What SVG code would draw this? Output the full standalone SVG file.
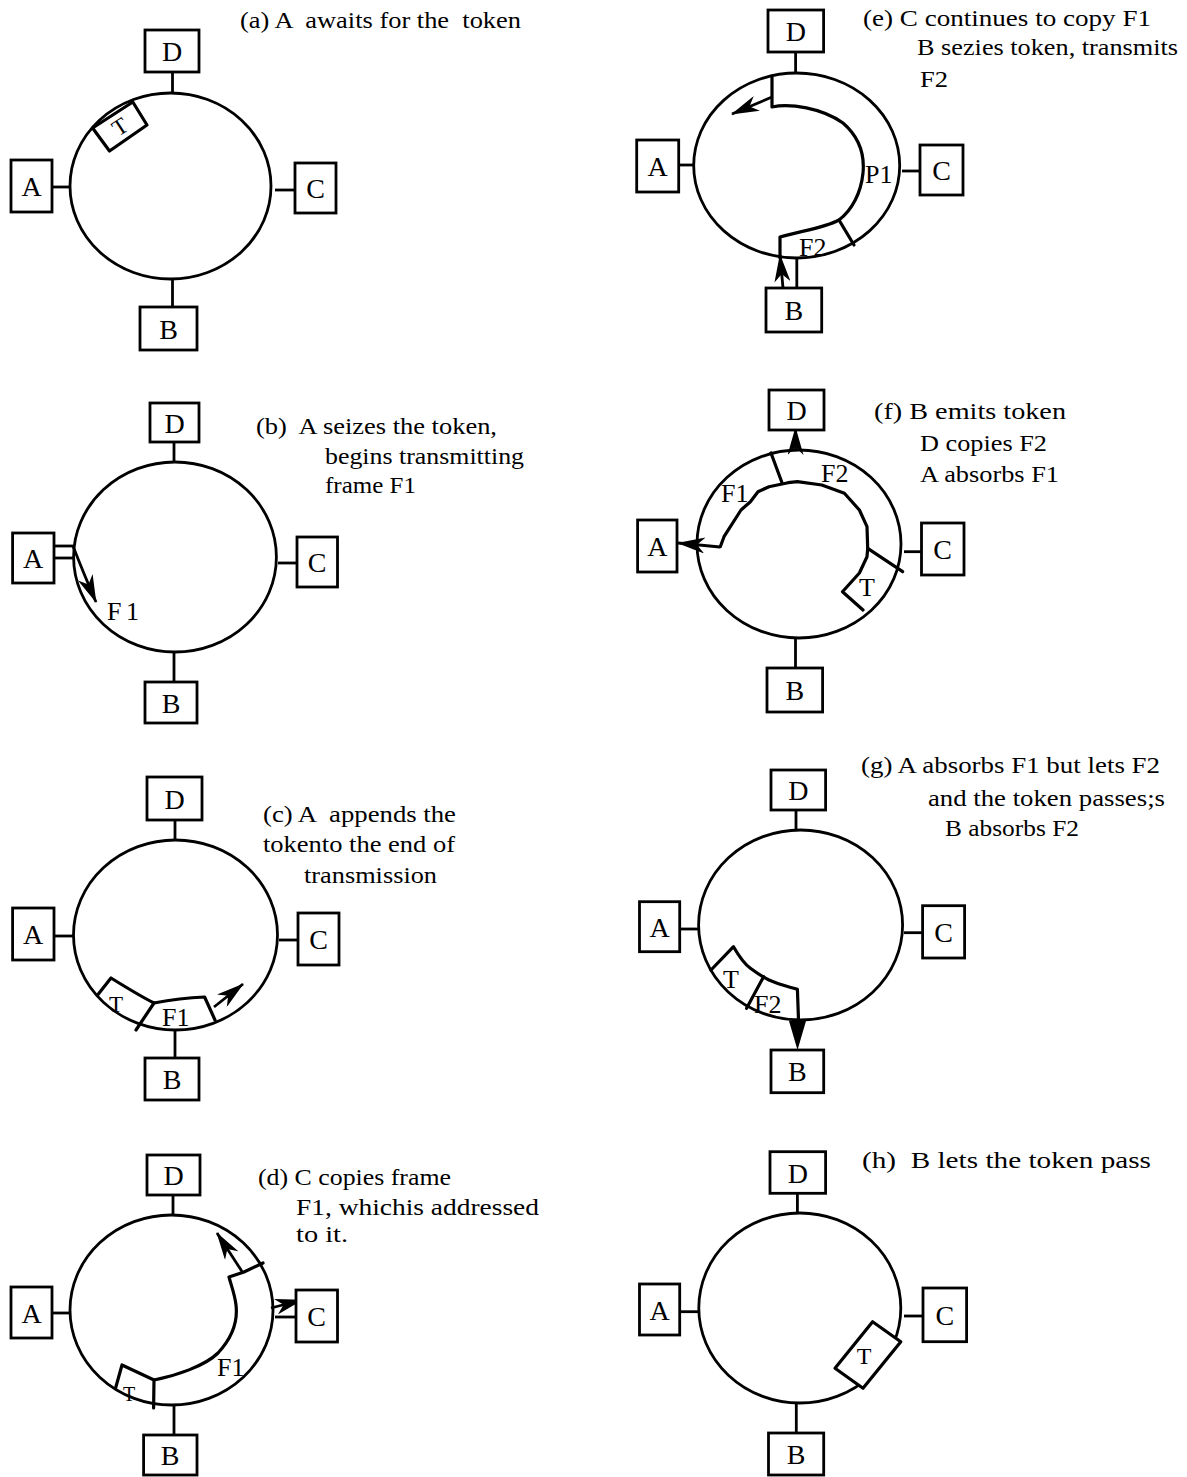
<svg xmlns="http://www.w3.org/2000/svg" width="1187" height="1477" viewBox="0 0 1187 1477">
<defs>
<style>
.ring{fill:none;stroke:#000;stroke-width:2.8}
.box{fill:#fff;stroke:#000;stroke-width:2.8}
.wire{fill:none;stroke:#000;stroke-width:2.8}
.frame{fill:none;stroke:#000;stroke-width:3.2;stroke-linejoin:round;stroke-linecap:round}
.tok{fill:#fff;stroke:#000;stroke-width:3.2;stroke-linejoin:round}
.lbl{font-family:"Liberation Serif","Times New Roman",serif;font-size:28px;text-anchor:middle;fill:#000}
.cap{font-family:"Liberation Serif","Times New Roman",serif;font-size:23px;fill:#000;white-space:pre}
.fl{font-family:"Liberation Serif","Times New Roman",serif;font-size:26px;fill:#000}
.arrow{fill:none;stroke:#000;stroke-width:2.8;marker-end:url(#ah)}
</style>
<marker id="ah" viewBox="0 0 28 16" markerWidth="28" markerHeight="16" refX="27" refY="8" orient="auto" markerUnits="userSpaceOnUse">
<path d="M0,0 L28,8 L0,16 L8,8 Z" fill="#000"/>
</marker>
</defs>
<rect width="1187" height="1477" fill="#fff"/>

<!-- Panel (a) -->
<g id="panel-a">
<text class="cap" x="240" y="28" textLength="281" lengthAdjust="spacingAndGlyphs">(a) A  awaits for the  token</text>
<g id="a-ring"><ellipse class="ring" cx="170.5" cy="186" rx="100.5" ry="93"/></g>
<g id="a-links">
<line class="wire" x1="172.5" y1="72" x2="172.5" y2="93"/>
<line class="wire" x1="52" y1="187" x2="70" y2="187"/>
<line class="wire" x1="275" y1="190" x2="295" y2="190"/>
<line class="wire" x1="172.5" y1="279" x2="172.5" y2="307"/>
</g>
<g id="a-token"><polygon class="tok" points="92.6,128 132.8,102 147,125 109.5,151"/><text class="fl" x="120" y="127" text-anchor="middle" dominant-baseline="central" transform="rotate(-33 120 127)" style="font-size:23px">T</text></g>
<g id="a-D"><rect class="box" x="145" y="30" width="54" height="42"/><text class="lbl" x="172" y="61">D</text></g>
<g id="a-A"><rect class="box" x="11" y="160" width="41" height="52"/><text class="lbl" x="31.5" y="196">A</text></g>
<g id="a-C"><rect class="box" x="295" y="163" width="41" height="50"/><text class="lbl" x="315.5" y="198">C</text></g>
<g id="a-B"><rect class="box" x="140" y="307" width="57" height="43"/><text class="lbl" x="168.5" y="338.5">B</text></g>
</g>

<!-- Panel (b) -->
<g id="panel-b">
<text class="cap" x="256" y="434" textLength="241" lengthAdjust="spacingAndGlyphs">(b)  A seizes the token,</text>
<text class="cap" x="325" y="464" textLength="199" lengthAdjust="spacingAndGlyphs">begins transmitting</text>
<text class="cap" x="325" y="493" textLength="91" lengthAdjust="spacingAndGlyphs">frame F1</text>
<g id="b-ring"><ellipse class="ring" cx="175" cy="557" rx="101.4" ry="95"/></g>
<g id="b-links">
<line class="wire" x1="174" y1="442" x2="174" y2="462"/>
<line class="wire" x1="54" y1="546" x2="74.5" y2="546"/>
<line class="wire" x1="54" y1="558" x2="73.6" y2="558"/>
<line class="wire" x1="278" y1="563" x2="297" y2="563"/>
<line class="wire" x1="174" y1="652" x2="174" y2="682"/>
<path class="arrow" d="M73,546 Q83,572 96,602"/>
</g>
<text class="fl" x="107" y="620" textLength="32" lengthAdjust="spacing">F1</text>
<g id="b-D"><rect class="box" x="150" y="403" width="49" height="39"/><text class="lbl" x="174.5" y="432.5">D</text></g>
<g id="b-A"><rect class="box" x="12.6" y="533" width="41.4" height="50"/><text class="lbl" x="33" y="568">A</text></g>
<g id="b-C"><rect class="box" x="297" y="537" width="40.5" height="50"/><text class="lbl" x="317" y="572">C</text></g>
<g id="b-B"><rect class="box" x="145" y="682" width="52" height="41"/><text class="lbl" x="171" y="712.5">B</text></g>
</g>

<!-- Panel (c) -->
<g id="panel-c">
<text class="cap" x="263" y="822" textLength="193" lengthAdjust="spacingAndGlyphs">(c) A  appends the</text>
<text class="cap" x="263" y="852" textLength="192" lengthAdjust="spacingAndGlyphs">tokento the end of</text>
<text class="cap" x="304" y="883" textLength="133" lengthAdjust="spacingAndGlyphs">transmission</text>
<g id="c-ring"><ellipse class="ring" cx="175.5" cy="935" rx="102" ry="95"/></g>
<g id="c-links">
<line class="wire" x1="175" y1="820" x2="175" y2="840"/>
<line class="wire" x1="54" y1="936" x2="73.6" y2="936"/>
<line class="wire" x1="279" y1="940" x2="298" y2="940"/>
<line class="wire" x1="175" y1="1030" x2="175" y2="1058"/>
<path class="frame" d="M97.6,995 L111,978 Q140,996 154,1003 Q180,998 204.6,997 L215,1020"/>
<path class="frame" d="M154,1003 L136,1030"/>
<path class="arrow" d="M214,1007 L243,984"/>
</g>
<text class="fl" x="116" y="1012" text-anchor="middle" style="font-size:23px">T</text>
<text class="fl" x="162" y="1026">F1</text>
<g id="c-D"><rect class="box" x="147" y="777" width="55" height="43"/><text class="lbl" x="174.5" y="808.5">D</text></g>
<g id="c-A"><rect class="box" x="12.6" y="908" width="41.4" height="52"/><text class="lbl" x="33" y="944">A</text></g>
<g id="c-C"><rect class="box" x="298" y="913" width="41" height="52"/><text class="lbl" x="318.5" y="949">C</text></g>
<g id="c-B"><rect class="box" x="145" y="1058" width="54" height="42"/><text class="lbl" x="172" y="1089">B</text></g>
</g>

<!-- Panel (d) -->
<g id="panel-d">
<text class="cap" x="258" y="1185" textLength="193" lengthAdjust="spacingAndGlyphs">(d) C copies frame</text>
<text class="cap" x="296" y="1215" textLength="243" lengthAdjust="spacingAndGlyphs">F1, whichis addressed</text>
<text class="cap" x="296" y="1242" textLength="52" lengthAdjust="spacingAndGlyphs">to it.</text>
<g id="d-ring"><ellipse class="ring" cx="171.5" cy="1310" rx="101.5" ry="95"/></g>
<g id="d-links">
<line class="wire" x1="173" y1="1195" x2="173" y2="1215"/>
<line class="wire" x1="52" y1="1313" x2="70" y2="1313"/>
<line class="wire" x1="275" y1="1317" x2="296" y2="1317"/>
<line class="wire" x1="174" y1="1405" x2="174" y2="1435"/>
<path class="frame" d="M115.6,1388 L122,1365 L154,1380 L153.6,1408"/>
<path class="frame" d="M154,1380 C175,1376 205,1366 218,1353 C232,1338 238,1322 236,1305 C235,1295 231,1285 229,1277 L244,1272 L263,1263"/>
<path class="arrow" d="M243,1273 L217,1233"/>
<path class="arrow" d="M271,1308 L302,1300"/>
</g>
<text class="fl" x="129" y="1401" text-anchor="middle" style="font-size:20px">T</text>
<text class="fl" x="217" y="1376">F1</text>
<g id="d-D"><rect class="box" x="147" y="1155" width="53" height="40"/><text class="lbl" x="173.5" y="1185">D</text></g>
<g id="d-A"><rect class="box" x="11" y="1287" width="41" height="51"/><text class="lbl" x="31.5" y="1322.5">A</text></g>
<g id="d-C"><rect class="box" x="296" y="1290" width="41.5" height="52"/><text class="lbl" x="316.7" y="1326">C</text></g>
<g id="d-B"><rect class="box" x="143.6" y="1435" width="53.4" height="40"/><text class="lbl" x="170" y="1465">B</text></g>
</g>

<!-- Panel (e) -->
<g id="panel-e">
<text class="cap" x="863" y="26" textLength="288" lengthAdjust="spacingAndGlyphs">(e) C continues to copy F1</text>
<text class="cap" x="917" y="55" textLength="261" lengthAdjust="spacingAndGlyphs">B sezies token, transmits</text>
<text class="cap" x="920" y="87" textLength="28" lengthAdjust="spacingAndGlyphs">F2</text>
<g id="e-ring"><ellipse class="ring" cx="796.7" cy="165.5" rx="103" ry="92.5"/></g>
<g id="e-links">
<line class="wire" x1="795.6" y1="52" x2="795.6" y2="73"/>
<line class="wire" x1="679" y1="165" x2="693.7" y2="165"/>
<line class="wire" x1="902" y1="171" x2="920" y2="171"/>
<line class="wire" x1="796.8" y1="258" x2="796.8" y2="288"/>
<path class="frame" d="M772,76 L772,107 C790,103 822,108 843,123 C858,136 865,152 863,173 C861,193 852,210 839,220 C825,228 800,231 780,237 L780,258"/>
<path class="frame" d="M839,220 L854,245"/>
<path class="arrow" d="M772,97 L732,114"/>
<path class="arrow" d="M783,288 L780,255"/>
</g>
<text class="fl" x="865" y="183">P1</text>
<text class="fl" x="799" y="256">F2</text>
<g id="e-D"><rect class="box" x="768" y="10" width="55.6" height="42"/><text class="lbl" x="795.8" y="41">D</text></g>
<g id="e-A"><rect class="box" x="636.7" y="140" width="42" height="52"/><text class="lbl" x="657.7" y="176">A</text></g>
<g id="e-C"><rect class="box" x="920" y="145" width="43" height="50"/><text class="lbl" x="941.5" y="180">C</text></g>
<g id="e-B"><rect class="box" x="766" y="288" width="55.7" height="44"/><text class="lbl" x="793.8" y="320">B</text></g>
</g>

<!-- Panel (f) -->
<g id="panel-f">
<text class="cap" x="874" y="419" textLength="192" lengthAdjust="spacingAndGlyphs">(f) B emits token</text>
<text class="cap" x="920" y="451" textLength="127" lengthAdjust="spacingAndGlyphs">D copies F2</text>
<text class="cap" x="920" y="482" textLength="139" lengthAdjust="spacingAndGlyphs">A absorbs F1</text>
<g id="f-ring"><ellipse class="ring" cx="799" cy="544" rx="102" ry="94"/></g>
<g id="f-links">
<path class="arrow" d="M795.5,450 L795.5,428"/>
<path class="arrow" d="M720,547 L678,543"/>
<line class="wire" x1="904" y1="551.7" x2="921.5" y2="551.7"/>
<line class="wire" x1="795.5" y1="638" x2="795.5" y2="668"/>
<path class="frame" d="M720.3,546.7 L724,536.7 L741,510 L750.4,501.7 L758,491.7 L769,486.7 L788,482.7 L797.4,481.7 L821.8,485 L844.4,493.3 L859.4,510 L867,526.7 L867.7,548.3 L867,556.7 L859.4,573 L842.5,591.7 L863,610"/>
<path class="frame" d="M867.7,548.3 L902.7,571.7"/>
<path class="frame" d="M771,453 L782,482.7"/>
</g>
<text class="fl" x="721" y="502">F1</text>
<text class="fl" x="821" y="482">F2</text>
<text class="fl" x="859" y="596">T</text>
<g id="f-D"><rect class="box" x="769" y="390" width="55" height="40"/><text class="lbl" x="796.5" y="420">D</text></g>
<g id="f-A"><rect class="box" x="637.6" y="520" width="39.4" height="52"/><text class="lbl" x="657.3" y="556">A</text></g>
<g id="f-C"><rect class="box" x="921.5" y="523" width="42.5" height="52"/><text class="lbl" x="942.7" y="559">C</text></g>
<g id="f-B"><rect class="box" x="767" y="668" width="55.6" height="44"/><text class="lbl" x="794.8" y="700">B</text></g>
</g>

<!-- Panel (g) -->
<g id="panel-g">
<text class="cap" x="861" y="773" textLength="299" lengthAdjust="spacingAndGlyphs">(g) A absorbs F1 but lets F2</text>
<text class="cap" x="928" y="806" textLength="237" lengthAdjust="spacingAndGlyphs">and the token passes;s</text>
<text class="cap" x="945" y="836" textLength="134" lengthAdjust="spacingAndGlyphs">B absorbs F2</text>
<g id="g-ring"><ellipse class="ring" cx="800.6" cy="925" rx="102" ry="95"/></g>
<g id="g-links">
<line class="wire" x1="796" y1="810" x2="796" y2="830"/>
<line class="wire" x1="680" y1="929" x2="698.6" y2="929"/>
<line class="wire" x1="904" y1="932.7" x2="922.6" y2="932.7"/>
<path class="frame" d="M711,970 L733.5,946.7 C740,958 746,965 750.4,968.3 C758,974 763,977 769,980 C780,985 790,987 797.4,989.3 L798.5,1020"/>
<path class="frame" d="M763.6,976.7 L746.6,1008.3"/>
<line class="wire" x1="798" y1="1018" x2="797.5" y2="1030"/>
<polygon points="789,1021 806,1021 797.5,1050" fill="#000"/>
</g>
<text class="fl" x="723" y="988">T</text>
<text class="fl" x="754" y="1013">F2</text>
<g id="g-D"><rect class="box" x="771" y="770" width="54.6" height="40"/><text class="lbl" x="798.3" y="800">D</text></g>
<g id="g-A"><rect class="box" x="639.5" y="901.7" width="40.2" height="50"/><text class="lbl" x="659.6" y="936.7">A</text></g>
<g id="g-C"><rect class="box" x="922.6" y="905.7" width="42" height="52.3"/><text class="lbl" x="943.6" y="941.8">C</text></g>
<g id="g-B"><rect class="box" x="771" y="1050" width="52.7" height="42.7"/><text class="lbl" x="797.3" y="1081">B</text></g>
</g>

<!-- Panel (h) -->
<g id="panel-h">
<text class="cap" x="862" y="1168" textLength="289" lengthAdjust="spacingAndGlyphs">(h)  B lets the token pass</text>
<g id="h-ring"><ellipse class="ring" cx="799.8" cy="1308" rx="101" ry="95"/></g>
<g id="h-links">
<line class="wire" x1="797.4" y1="1193" x2="797.4" y2="1213"/>
<line class="wire" x1="680" y1="1311.7" x2="698.8" y2="1311.7"/>
<line class="wire" x1="904" y1="1316" x2="923" y2="1316"/>
<line class="wire" x1="796.3" y1="1403" x2="796.3" y2="1433"/>
</g>
<g id="h-token"><polygon class="tok" points="872.6,1321.7 900.8,1341.7 863,1388.3 835,1368.3"/><text class="fl" x="864" y="1364" text-anchor="middle" style="font-size:24px">T</text></g>
<g id="h-D"><rect class="box" x="770" y="1151.7" width="55.6" height="41.6"/><text class="lbl" x="797.8" y="1182.5">D</text></g>
<g id="h-A"><rect class="box" x="639.5" y="1284" width="40.2" height="51"/><text class="lbl" x="659.6" y="1319.5">A</text></g>
<g id="h-C"><rect class="box" x="923" y="1288" width="43.6" height="53.7"/><text class="lbl" x="944.8" y="1324.8">C</text></g>
<g id="h-B"><rect class="box" x="768.5" y="1433" width="55.2" height="42"/><text class="lbl" x="796" y="1464">B</text></g>
</g>
</svg>
